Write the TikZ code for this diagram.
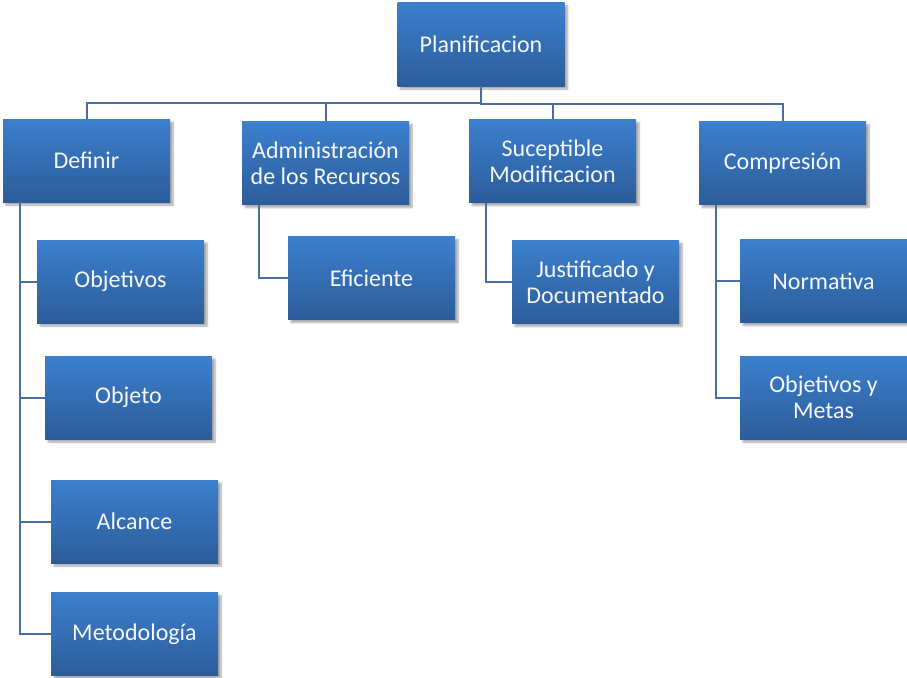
\documentclass[tikz,border=0pt]{standalone}
\usepackage{fontspec}
\setmainfont{Carlito}
\usetikzlibrary{shadows.blur}
\definecolor{boxtop}{RGB}{60,128,206}
\definecolor{boxbot}{RGB}{44,92,154}
\definecolor{linecol}{RGB}{72,110,160}
\definecolor{txtcol}{RGB}{245,247,250}
\tikzset{
  orgbox/.style={rectangle, minimum width=167pt, minimum height=83pt, inner sep=2pt,
    top color=boxtop, bottom color=boxbot, draw=none, text=txtcol, align=center,
    font=\fontsize{24}{26}\selectfont,
    blur shadow={shadow xshift=3pt, shadow yshift=-3pt, shadow blur steps=6, shadow opacity=35}},
  conn/.style={draw=linecol, line width=2pt}
}
\begin{document}
\begin{tikzpicture}[x=1pt, y=-1pt]
\useasboundingbox (0,0) rectangle (907,677);
\node[orgbox] (plan) at (481,44.5) {Planificacion};
\node[orgbox] (def) at (86.5,160.5) {Definir};
\node[orgbox] (obj1) at (120.5,281.5) {Objetivos};
\node[orgbox] (objeto) at (128.5,397.5) {Objeto};
\node[orgbox] (alc) at (134.5,521.5) {Alcance};
\node[orgbox] (met) at (134.5,634) {Metodología};
\node[orgbox] (adm) at (325.5,163) {Administración\\de los Recursos};
\node[orgbox] (efi) at (371.5,278) {Eficiente};
\node[orgbox] (sus) at (552.5,161) {Suceptible\\Modificacion};
\node[orgbox] (jus) at (595.5,282) {Justificado y\\Documentado};
\node[orgbox] (com) at (782.5,163) {Compresión};
\node[orgbox] (nor) at (823.5,281) {Normativa};
\node[orgbox] (omet) at (823.5,397.5) {Objetivos y\\Metas};
% top connectors
\draw[conn] (plan.south) -- ++(0,16.5) -| (def.north);
\draw[conn] (plan.south) -- ++(0,16.5) -| (adm.north);
\draw[conn] (plan.south) -- ++(0,17.5) -| (sus.north);
\draw[conn] (plan.south) -- ++(0,17.5) -| (com.north);
% child connectors
\coordinate (dv) at (20,202);
\coordinate (av) at (259,204.5);
\coordinate (sv) at (486,202.5);
\coordinate (cv) at (716,204.5);
\draw[conn] (dv) |- (obj1.west);
\draw[conn] (dv) |- (objeto.west);
\draw[conn] (dv) |- (alc.west);
\draw[conn] (dv) |- (met.west);
\draw[conn] (av) |- (efi.west);
\draw[conn] (sv) |- (jus.west);
\draw[conn] (cv) |- (nor.west);
\draw[conn] (cv) |- (omet.west);
\end{tikzpicture}
\end{document}
